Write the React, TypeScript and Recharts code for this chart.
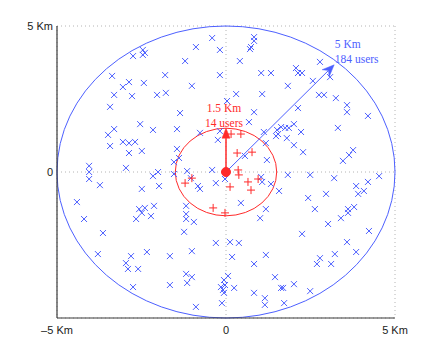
import {
  ScatterChart,
  Scatter,
  XAxis,
  YAxis,
  CartesianGrid,
  ReferenceArea,
  ReferenceLine,
  ReferenceDot,
} from "recharts";

// users in the big cell (km)
const blueX = [
  -2.75, -2.46, -2.4, -2.46, -3.37, -1.8, -2.87, -3.05, -2.43, -3.31,
  -2.78, -2.04, -1.78, -3.43, -2.54, -2.16, -3.31, -3.49, -3.05, -2.87,
  -2.69, -3.43, -2.49, -2.87, -4.05, -4.05, -4.05, -2.96, -2.01, -2.16,
  -0.41, 0.83, 0.83, 0.74, 0.71, -0.89, -0.18, -1.21, 0.41, 1.04,
  1.33, -0.18, -1.01, 0.3, 1.07, 0.03, -1.36, 0.83, 0.68, -1.45,
  -0.77, -0.18, -0.24, 1.12, 1.51, 1.54, 1.48, -1.45, -1.39, -1.54,
  0.56, 1.18, 1.21, -0.41, -1.15, -1.54, 2.78, 2.07, 2.13, 2.25,
  1.83, 2.57, 3.08, 2.75, 2.9, 3.25, 3.58, 3.58, 4.2, 2.13,
  1.63, 1.75, 1.86, 2.01, 2.22, 1.8, 3.31, 2.01, 2.28, 3.76,
  3.64, 3.46, 1.83, 2.49, 3.2, 4.53, 4.2, 3.85, 3.91, 4.08,
  2.96, 2.43, 2.63, 3.61, 3.61, 3.79, 3.4, 3.02, 4.23, 2.25,
  3.58, 3.85, 3.22, 2.78, 2.69, 3.11, 2.01, 1.69, 2.49, 1.72,
  -3.73, -2.49, -1.98, -4.41, -2.57, -2.4, -2.13, -2.49, -2.66, -2.22,
  -4.2, -3.64, -3.79, -2.81, -2.34, -2.96, -2.9, -2.6, -1.66, -2.75,
  -1.66, -0.83, -0.77, -0.3, -0.03, 0.44, 1.04, 1.07, 1.33, 1.57,
  1.18, 1.01, -1.18, -1.18, -1.18, -0.95, -1.24, -0.3, 0.12, 0.38,
  -1.01, 0.18, 1.18, 0.83, -1.18, -1.01, -1.15, 0.06, -0.06, -0.03,
  -0.15, -0.09, -0.06, 0.24, 1.45, 1.63, 0.83, 1.15, 1.15, -0.89,
  -0.12, -1.04,
];
const blueY = [
  3.97, 4.18, 4.08, 4.01, 3.29, 3.32, 3.08, 2.91, 3.05, 2.64,
  2.6, 2.64, 2.71, 2.23, 1.64, 1.44, 1.47, 1.27, 1.03, 0.99,
  1.03, 0.89, 0.72, 0.65, 0.21, 0, -0.24, 0.14, 0, -0.14,
  4.59, 4.62, 4.49, 4.28, 4.21, 4.28, 4.18, 3.8, 3.8, 3.39,
  3.39, 3.32, 2.95, 2.67, 2.67, 2.43, 2.02, 2.05, 1.71, 1.47,
  1.34, 1.4, 1.1, 1.37, 1.44, 1.3, 1.23, 0.79, 0.48, 0.34,
  0.55, 0.99, 0.41, 0.07, 0.03, -0.07, 3.77, 3.56, 3.39, 3.39,
  2.95, 3.12, 3.25, 2.64, 2.64, 2.53, 2.29, 2.05, 1.92, 2.19,
  1.54, 1.51, 1.51, 1.64, 1.37, 1.16, 1.51, 0.92, 0.68, 0.75,
  0.58, 0.38, -0.1, -0.1, -0.21, -0.14, -0.34, -0.48, -0.75, -0.65,
  -0.75, -0.89, -1.27, -1.27, -1.4, -1.2, -1.58, -1.78, -2.02, -2.12,
  -2.4, -2.74, -2.81, -2.95, -3.15, -3.15, -3.84, -3.97, -4.08, -4.49,
  -0.45, -0.58, -0.48, -1.03, -1.27, -1.23, -1.16, -1.4, -1.61, -1.51,
  -1.61, -2.09, -2.81, -2.88, -2.74, -3.12, -3.32, -3.32, -2.88, -3.94,
  -3.87, -0.48, -0.58, -0.38, -0.24, -1.06, -0.17, -0.34, -0.41, -0.65,
  -1.27, -1.58, -1.16, -1.44, -1.61, -1.71, -2.05, -2.43, -2.4, -2.43,
  -2.71, -2.91, -2.84, -3.15, -3.49, -3.6, -3.8, -3.56, -3.7, -3.87,
  -3.94, -4.04, -4.14, -3.97, -3.6, -3.97, -4.14, -4.32, -4.55, -4.62,
  -4.49, -0.21,
];

// users in the small cell (km)
const redX = [0.15, 0.44, 0.33, 0.77, 0.36, 0.38, 0.65, 0.95, -1.01, -1.21, 0.12, 0.74, -0.38, -0.03];
const redY = [1.3, 1.3, 0.65, 0.68, 0.07, -0.1, -0.34, -0.24, -0.21, -0.38, -0.51, -0.62, -1.23, -1.4];

const xTicks = [-5, 0, 5];
const yTicks = [0, 5];
const bigRadius = 5;
const smallRadius = 1.5;
const bigTip = { x: 3.2, y: 3.67 };
const smallTip = { x: 0, y: 1.5 };

const BLUE = "#4d60ff";
const RED = "#ff2a2a";
const AXIS = "#3a3a3a";

const blueData = blueX.map((x, i) => ({ x, y: blueY[i] }));
const redData = redX.map((x, i) => ({ x, y: redY[i] }));

const kmLabel = (v: number) => (v === 0 ? "0" : v < 0 ? `\u2013${-v} Km` : `${v} Km`);

const XMark = (p: any) => (
  <path
    d={`M${p.cx - 3},${p.cy - 3}L${p.cx + 3},${p.cy + 3}M${p.cx - 3},${p.cy + 3}L${p.cx + 3},${p.cy - 3}`}
    stroke={BLUE}
    strokeWidth={1}
    fill="none"
  />
);

const PlusMark = (p: any) => (
  <path
    d={`M${p.cx - 4},${p.cy}L${p.cx + 4},${p.cy}M${p.cx},${p.cy - 4}L${p.cx},${p.cy + 4}`}
    stroke={RED}
    strokeWidth={1}
    fill="none"
  />
);

const ring = (color: string) => (p: any) => (
  <ellipse
    cx={p.x + p.width / 2}
    cy={p.y + p.height / 2}
    rx={Math.abs(p.width) / 2}
    ry={Math.abs(p.height) / 2}
    fill="none"
    stroke={color}
    strokeWidth={1}
  />
);

const arrow = (color: string, len: number, half: number, notch: number, width: number) => (p: any) => {
  const { x1, y1, x2, y2 } = p;
  const a = Math.atan2(y2 - y1, x2 - x1);
  const ux = Math.cos(a);
  const uy = Math.sin(a);
  const bx = x2 - ux * len;
  const by = y2 - uy * len;
  const nx = x2 - ux * notch;
  const ny = y2 - uy * notch;
  const pts = `${x2},${y2} ${bx - uy * half},${by + ux * half} ${nx},${ny} ${bx + uy * half},${by - ux * half}`;
  return (
    <g>
      <line x1={x1} y1={y1} x2={nx} y2={ny} stroke={color} strokeWidth={width} />
      <polygon points={pts} fill={color} stroke={color} strokeWidth={0.5} />
    </g>
  );
};

const note = (text: string, color: string, anchor: "start" | "middle") => (p: any) => (
  <text
    x={p.cx}
    y={p.cy}
    dy="0.35em"
    textAnchor={anchor}
    fill={color}
    fontFamily="'Liberation Serif', serif"
    fontSize={11.5}
  >
    {text}
  </text>
);

const tickStyle = { fill: "#1a1a1a", fontSize: 11, fontFamily: "'Liberation Sans', Arial, sans-serif" };

export default function App() {
  return (
    <div style={{ width: 420, height: 342 }}>
      <ScatterChart width={420} height={342} margin={{ top: 18, right: 33, left: 0, bottom: 0 }}>
        <CartesianGrid stroke="#b4b4b4" strokeDasharray="1 3" />
        <XAxis
          type="number"
          dataKey="x"
          domain={[-5, 5]}
          ticks={xTicks}
          interval={0}
          allowDataOverflow
          tickFormatter={kmLabel}
          tickLine={false}
          axisLine={{ stroke: AXIS, strokeWidth: 1.2 }}
          tick={tickStyle}
          height={32}
        />
        <YAxis
          type="number"
          dataKey="y"
          domain={[-5, 5]}
          ticks={yTicks}
          interval={0}
          allowDataOverflow
          tickFormatter={kmLabel}
          tickLine={false}
          tickSize={2}
          tickMargin={2}
          axisLine={{ stroke: AXIS, strokeWidth: 1.2 }}
          tick={tickStyle}
          width={49}
        />
        <ReferenceArea
          x1={-bigRadius}
          x2={bigRadius}
          y1={-bigRadius}
          y2={bigRadius}
          ifOverflow="visible"
          shape={ring(BLUE)}
        />
        <ReferenceArea
          x1={-smallRadius}
          x2={smallRadius}
          y1={-smallRadius}
          y2={smallRadius}
          ifOverflow="visible"
          shape={ring(RED)}
        />
        <Scatter data={blueData} shape={XMark} isAnimationActive={false} />
        <Scatter data={redData} shape={PlusMark} isAnimationActive={false} />
        <ReferenceLine
          segment={[{ x: 0, y: 0 }, bigTip]}
          ifOverflow="visible"
          shape={arrow(BLUE, 12, 5, 8, 1)}
        />
        <ReferenceLine
          segment={[{ x: 0, y: 0 }, smallTip]}
          ifOverflow="visible"
          shape={arrow(RED, 10, 4, 10, 1.5)}
        />
        <ReferenceDot x={0} y={0} r={4.5} fill={RED} stroke={RED} ifOverflow="visible" />
        <ReferenceDot x={3.22} y={4.38} ifOverflow="visible" shape={note("5 Km", BLUE, "start")} />
        <ReferenceDot x={3.22} y={3.87} ifOverflow="visible" shape={note("184 users", BLUE, "start")} />
        <ReferenceDot x={-0.06} y={2.19} ifOverflow="visible" shape={note("1.5 Km", RED, "middle")} />
        <ReferenceDot x={-0.06} y={1.68} ifOverflow="visible" shape={note("14 users", RED, "middle")} />
      </ScatterChart>
    </div>
  );
}
